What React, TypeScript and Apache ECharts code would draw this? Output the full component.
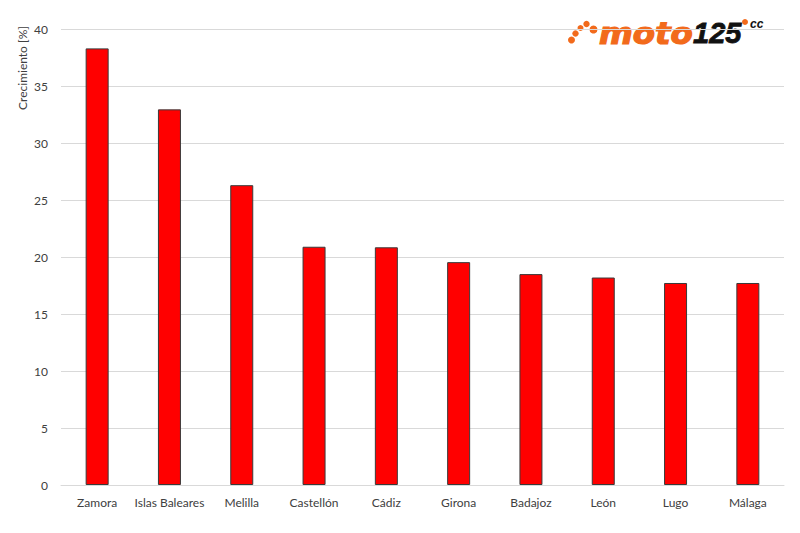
import React, { useEffect, useRef } from "react";
import * as echarts from "echarts";

const categories = ["Zamora", "Islas Baleares", "Melilla", "Castellón", "Cádiz", "Girona", "Badajoz", "León", "Lugo", "Málaga"];
const growth = [38.3, 32.95, 26.3, 20.9, 20.85, 19.55, 18.5, 18.2, 17.72, 17.72];
const yTicks = { min: 0, max: 40, interval: 5 };
const yAxisTitle = "Crecimiento [%]";

const FONT = "Lato, 'Open Sans', sans-serif";
const ORANGE = "#f26a1b";

export default function App() {
  const ref = useRef<HTMLDivElement>(null);
  useEffect(() => {
    if (!ref.current) return;
    const chart = echarts.init(ref.current, undefined, { renderer: "svg" });
    const dots = [
      { x: 571.5, y: 40, r: 3.5 },
      { x: 575.5, y: 33.5, r: 3.2 },
      { x: 580.5, y: 28, r: 3 },
      { x: 586.5, y: 24, r: 3.2 },
      { x: 593.5, y: 29.5, r: 4 },
    ];
    chart.setOption({
      animation: false,
      backgroundColor: "#ffffff",
      grid: { left: 61, right: 16, top: 29, bottom: 48, containLabel: false },
      xAxis: {
        type: "category",
        data: categories,
        axisLine: { show: true, lineStyle: { color: "#d9d9d9", width: 1 } },
        axisTick: { show: false },
        axisLabel: { color: "#404040", fontSize: 12, fontFamily: FONT, margin: 11, interval: 0 },
      },
      yAxis: {
        type: "value",
        min: yTicks.min,
        max: yTicks.max,
        interval: yTicks.interval,
        axisLine: { show: false },
        axisTick: { show: false },
        splitLine: { lineStyle: { color: "#d9d9d9", width: 1 } },
        axisLabel: { color: "#404040", fontSize: 12, fontFamily: FONT, margin: 13 },
      },
      series: [
        {
          type: "bar",
          data: growth,
          barWidth: 23,
          itemStyle: { color: "#ff0000", borderColor: "#3a3a3a", borderWidth: 1 },
        },
      ],
      graphic: [
        {
          type: "text",
          x: 22,
          y: 68,
          rotation: Math.PI / 2,
          style: {
            text: yAxisTitle,
            fill: "#404040",
            font: `12px ${FONT}`,
            textAlign: "center",
            textVerticalAlign: "middle",
          },
        },
        ...dots.map((d) => ({
          type: "circle",
          shape: { cx: d.x, cy: d.y, r: d.r },
          style: { fill: ORANGE },
        })),
        {
          type: "text",
          x: 599,
          y: 33,
          scaleX: 1.08,
          style: {
            text: "moto",
            fill: ORANGE,
            stroke: ORANGE,
            lineWidth: 1.2,
            font: `italic bold 30px 'DejaVu Sans', sans-serif`,
            textAlign: "left",
            textVerticalAlign: "middle",
          },
        },
        {
          type: "text",
          x: 693,
          y: 33,
          style: {
            text: "125",
            fill: "#111111",
            stroke: "#111111",
            lineWidth: 0.8,
            font: `italic bold 29px 'Liberation Sans', sans-serif`,
            textAlign: "left",
            textVerticalAlign: "middle",
          },
        },
        {
          type: "circle",
          shape: { cx: 745, cy: 22, r: 3 },
          style: { fill: ORANGE },
        },
        {
          type: "text",
          x: 750,
          y: 24,
          style: {
            text: "cc",
            fill: "#111111",
            font: `italic bold 12px 'Liberation Sans', sans-serif`,
            textAlign: "left",
            textVerticalAlign: "middle",
          },
        },
      ],
    });
    return () => chart.dispose();
  }, []);
  return <div ref={ref} style={{ width: 800, height: 533, position: "absolute", left: 0, top: 0 }} />;
}
